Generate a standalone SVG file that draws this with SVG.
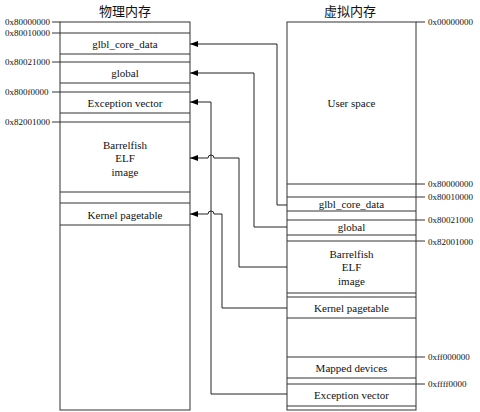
<svg xmlns="http://www.w3.org/2000/svg" width="480" height="412" viewBox="0 0 480 412">
<defs>
<style>
.box{fill:#fff;stroke:#333;stroke-width:1}
.ln{stroke:#333;stroke-width:1;fill:none}
.lbl{font-family:"Liberation Serif",serif;font-size:11px;fill:#111;text-anchor:middle}
.addr{font-family:"Liberation Serif",serif;font-size:9px;fill:#111}
.title{font-family:"Noto Sans CJK SC","Noto Sans",sans-serif;font-size:13px;fill:#111;text-anchor:middle}
.con{stroke:#222;stroke-width:1;fill:none;marker-end:url(#arr)}
</style>
<marker id="arr" markerWidth="8" markerHeight="6" refX="8" refY="3" orient="auto" markerUnits="userSpaceOnUse">
<path d="M0,0 L8,3 L0,6 Z" fill="#000"/>
</marker>
</defs>
<rect width="480" height="412" fill="#fff"/>
<text class="title" x="125" y="16">物理内存</text>
<text class="title" x="350" y="16">虚拟内存</text>

<g id="phys">
<rect class="box" x="60" y="22" width="130" height="388"/>
<g id="p-addr">
<line class="ln" x1="52" y1="22" x2="60" y2="22"/><text class="addr" x="5" y="25">0x80000000</text>
<line class="ln" x1="52" y1="33" x2="60" y2="33"/><text class="addr" x="5" y="36">0x80010000</text>
<line class="ln" x1="52" y1="62" x2="60" y2="62"/><text class="addr" x="5" y="65">0x80021000</text>
<line class="ln" x1="52" y1="92" x2="60" y2="92"/><text class="addr" x="5" y="95">0x800f0000</text>
<line class="ln" x1="52" y1="122" x2="60" y2="122"/><text class="addr" x="5" y="125">0x82001000</text>
</g>
<g id="p-glbl"><line class="ln" x1="60" y1="33" x2="190" y2="33"/><line class="ln" x1="60" y1="54" x2="190" y2="54"/><text class="lbl" x="125" y="48">glbl_core_data</text></g>
<g id="p-global"><line class="ln" x1="60" y1="62" x2="190" y2="62"/><line class="ln" x1="60" y1="83" x2="190" y2="83"/><text class="lbl" x="125" y="77">global</text></g>
<g id="p-exc"><line class="ln" x1="60" y1="92" x2="190" y2="92"/><line class="ln" x1="60" y1="113" x2="190" y2="113"/><text class="lbl" x="125" y="107">Exception vector</text></g>
<g id="p-elf"><line class="ln" x1="60" y1="122" x2="190" y2="122"/><line class="ln" x1="60" y1="192" x2="190" y2="192"/><text class="lbl" x="125" y="149">Barrelfish</text><text class="lbl" x="125" y="162">ELF</text><text class="lbl" x="125" y="176">image</text></g>
<g id="p-kpt"><line class="ln" x1="60" y1="203" x2="190" y2="203"/><line class="ln" x1="60" y1="225" x2="190" y2="225"/><text class="lbl" x="125" y="219">Kernel pagetable</text></g>
</g>

<g id="virt">
<rect class="box" x="287" y="22" width="129" height="388"/>
<g id="v-addr">
<line class="ln" x1="416" y1="22" x2="425" y2="22"/><text class="addr" x="428" y="25">0x00000000</text>
<line class="ln" x1="416" y1="184" x2="425" y2="184"/><text class="addr" x="428" y="187">0x80000000</text>
<line class="ln" x1="416" y1="197" x2="425" y2="197"/><text class="addr" x="428" y="200">0x80010000</text>
<line class="ln" x1="416" y1="220" x2="425" y2="220"/><text class="addr" x="428" y="223">0x80021000</text>
<line class="ln" x1="416" y1="241" x2="425" y2="241"/><text class="addr" x="428" y="245">0x82001000</text>
<line class="ln" x1="416" y1="357" x2="425" y2="357"/><text class="addr" x="428" y="360">0xff000000</text>
<line class="ln" x1="416" y1="384" x2="425" y2="384"/><text class="addr" x="428" y="387">0xffff0000</text>
</g>
<g id="v-user"><text class="lbl" x="351.5" y="107">User space</text><line class="ln" x1="287" y1="184" x2="416" y2="184"/></g>
<g id="v-glbl"><line class="ln" x1="287" y1="197" x2="416" y2="197"/><line class="ln" x1="287" y1="211" x2="416" y2="211"/><text class="lbl" x="351.5" y="208">glbl_core_data</text></g>
<g id="v-global"><line class="ln" x1="287" y1="220" x2="416" y2="220"/><line class="ln" x1="287" y1="235" x2="416" y2="235"/><text class="lbl" x="351.5" y="231">global</text></g>
<g id="v-elf"><line class="ln" x1="287" y1="241" x2="416" y2="241"/><line class="ln" x1="287" y1="293" x2="416" y2="293"/><text class="lbl" x="351.5" y="258">Barrelfish</text><text class="lbl" x="351.5" y="271">ELF</text><text class="lbl" x="351.5" y="285">image</text></g>
<g id="v-kpt"><line class="ln" x1="287" y1="297" x2="416" y2="297"/><line class="ln" x1="287" y1="318" x2="416" y2="318"/><text class="lbl" x="351.5" y="312">Kernel pagetable</text></g>
<g id="v-dev"><line class="ln" x1="287" y1="357" x2="416" y2="357"/><line class="ln" x1="287" y1="378" x2="416" y2="378"/><text class="lbl" x="351.5" y="372">Mapped devices</text></g>
<g id="v-exc"><line class="ln" x1="287" y1="384" x2="416" y2="384"/><line class="ln" x1="287" y1="406" x2="416" y2="406"/><text class="lbl" x="351.5" y="399">Exception vector</text></g>
</g>

<g id="connectors">
<path class="con" d="M287,205 H277 V44 H190"/>
<path class="con" d="M287,227 H254 V73 H190"/>
<path class="con" d="M287,394 H211 V102 H190"/>
<path class="con" d="M287,267 H239 V158 H214 A3,3 0 0 0 208,158 H190"/>
<path class="con" d="M287,308 H222 V214 H214 A3,3 0 0 0 208,214 H190"/>
</g>
</svg>
